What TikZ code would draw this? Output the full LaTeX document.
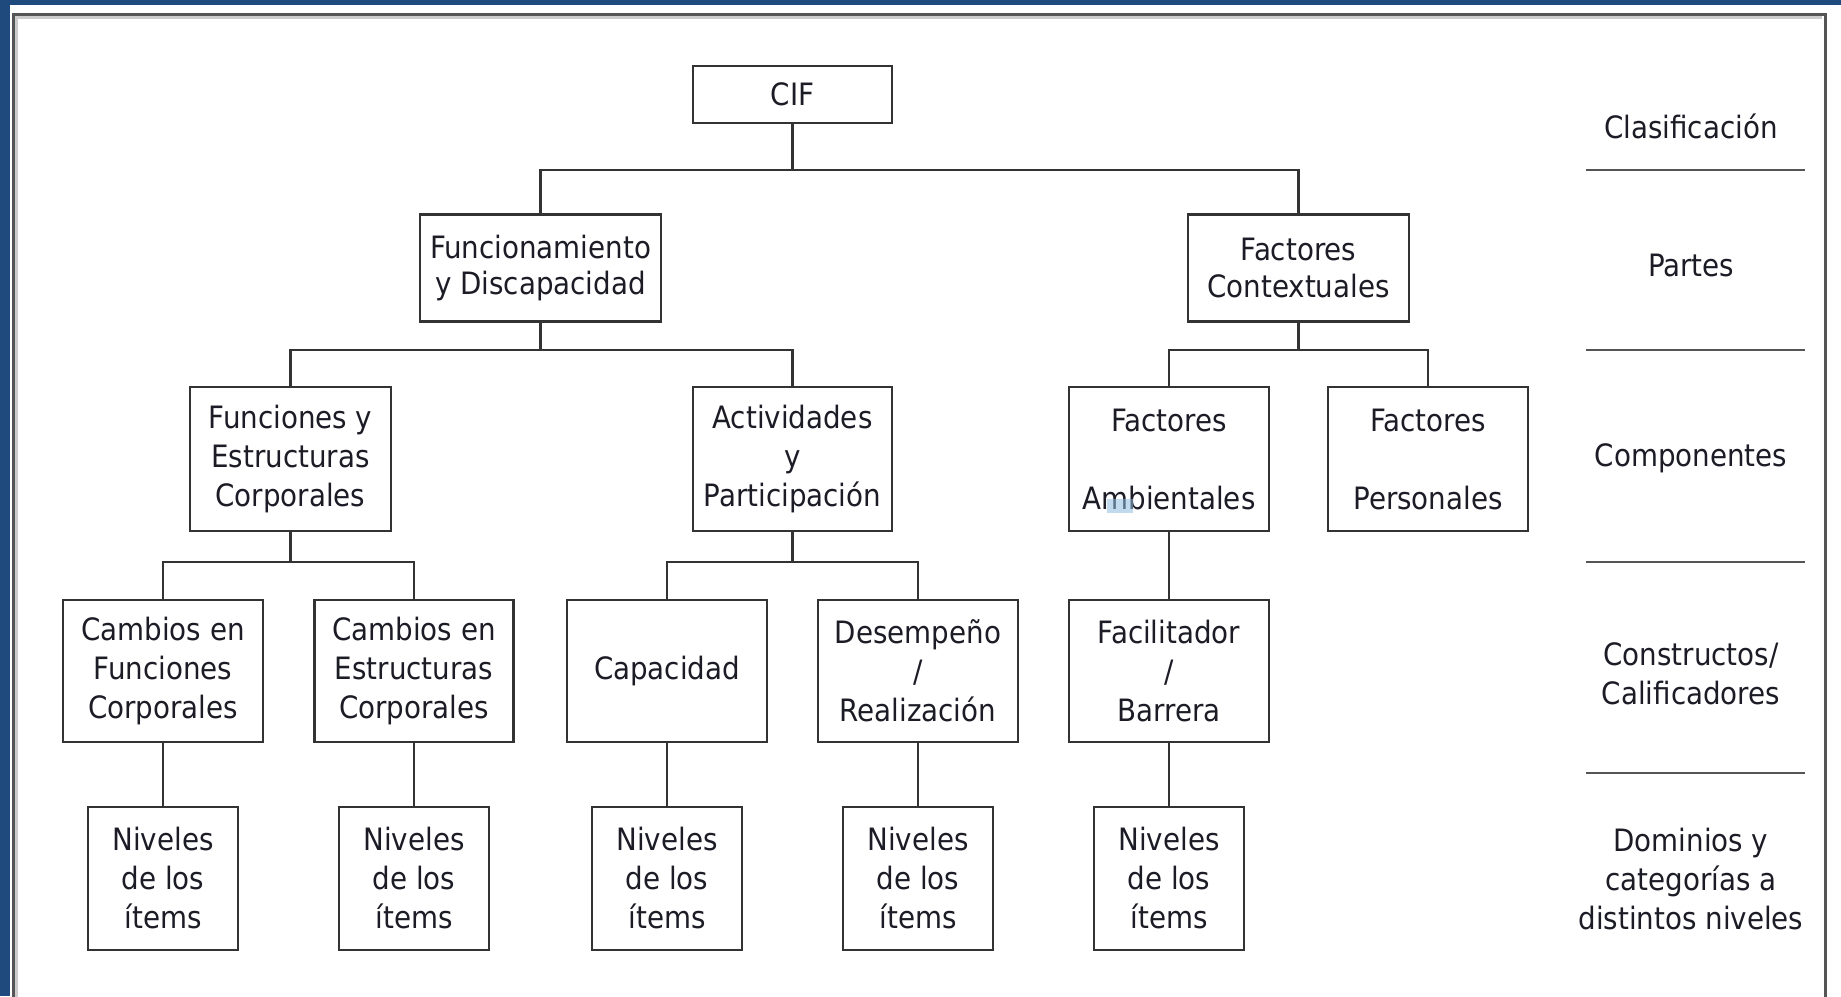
\documentclass[tikz,border=0pt]{standalone}
\usepackage{fontspec}
\newfontfamily\labelfont{DejaVu Sans Condensed}
\definecolor{bandblue}{HTML}{1F4A7D}
\definecolor{linegray}{HTML}{333333}
\definecolor{framegray}{HTML}{555555}
\definecolor{txt}{HTML}{1C1C26}
\definecolor{selblue}{HTML}{8FBCDF}
\tikzset{
  box/.style={draw=linegray, line width=2.4, fill=white, align=center, inner sep=0pt,
    text=txt, font=\labelfont\fontsize{30.8}{39}\selectfont},
  conn/.style={draw=linegray, line width=2.4},
  sep/.style={draw=framegray, line width=2.6},
  side/.style={align=center, inner sep=0pt, text=txt, font=\labelfont\fontsize{30.8}{39}\selectfont},
}
\begin{document}
\begin{tikzpicture}[x=1pt,y=-1pt]
\useasboundingbox (0,0) rectangle (1841,996);
\fill[white] (0,0) rectangle (1841,996);
% page band and frame
\fill[bandblue] (0,0) rectangle (1841,5);
\fill[bandblue] (0,0) rectangle (10,996);
\draw[black!20, line width=3] (16,1000) -- (16,17) -- (1822,17);
\draw[framegray, line width=3] (13,1000) -- (13,14) -- (1825,14) -- (1825,1000);

% level 1
\node[box, minimum width=199, minimum height=57] (cif) at (792.5,94.5) {CIF};
% level 2
\node[box, minimum width=241, minimum height=107, font=\labelfont\fontsize{30.8}{36.5}\selectfont] (fd) at (540.5,268) {Funcionamiento\\y Discapacidad};
\node[box, minimum width=221, minimum height=107, font=\labelfont\fontsize{30.8}{36.5}\selectfont] (fc) at (1298.5,268) {Factores\\Contextuales};
% level 3
\node[box, minimum width=201, minimum height=144] (fe) at (290.5,459) {Funciones y\\Estructuras\\Corporales};
\node[box, minimum width=199, minimum height=144] (ap) at (792.5,459) {Actividades\\y\\Participación};
\node[box, minimum width=200, minimum height=144] (fa) at (1169,459) {Factores\\[39pt]Ambientales};
\node[box, minimum width=200, minimum height=144] (fp) at (1428,459) {Factores\\[39pt]Personales};
% level 4
\node[box, minimum width=200, minimum height=142] (cf) at (163,671) {Cambios en\\Funciones\\Corporales};
\node[box, minimum width=199, minimum height=142] (ce) at (414,671) {Cambios en\\Estructuras\\Corporales};
\node[box, minimum width=200, minimum height=142] (cap) at (667,671) {Capacidad};
\node[box, minimum width=200, minimum height=142] (dr) at (918,671) {Desempeño\\/\\Realización};
\node[box, minimum width=200, minimum height=142] (fb) at (1169,671) {Facilitador\\/\\Barrera};
% level 5
\node[box, minimum width=150, minimum height=143] (n1) at (163,878.5) {Niveles\\de los\\ítems};
\node[box, minimum width=150, minimum height=143] (n2) at (414,878.5) {Niveles\\de los\\ítems};
\node[box, minimum width=150, minimum height=143] (n3) at (667,878.5) {Niveles\\de los\\ítems};
\node[box, minimum width=150, minimum height=143] (n4) at (918,878.5) {Niveles\\de los\\ítems};
\node[box, minimum width=150, minimum height=143] (n5) at (1169,878.5) {Niveles\\de los\\ítems};

% selection highlight artefact
\fill[selblue, fill opacity=0.55] (1107,499) rectangle (1133,513);

% connectors
\draw[conn] (cif.south) -- (cif.south |- 0,170);
\draw[conn] (fd.north) |- (fc.north |- 0,170) -- (fc.north);
\draw[conn] (fd.south) -- (fd.south |- 0,350);
\draw[conn] (fe.north) |- (ap.north |- 0,350) -- (ap.north);
\draw[conn] (fc.south) -- (fc.south |- 0,350);
\draw[conn] (fa.north) |- (fp.north |- 0,350) -- (fp.north);
\draw[conn] (fe.south) -- (fe.south |- 0,562);
\draw[conn] (cf.north) |- (ce.north |- 0,562) -- (ce.north);
\draw[conn] (ap.south) -- (ap.south |- 0,562);
\draw[conn] (cap.north) |- (dr.north |- 0,562) -- (dr.north);
\draw[conn] (fa.south) -- (fb.north);
\draw[conn] (cf.south) -- (n1.north);
\draw[conn] (ce.south) -- (n2.north);
\draw[conn] (cap.south) -- (n3.north);
\draw[conn] (dr.south) -- (n4.north);
\draw[conn] (fb.south) -- (n5.north);

% right-hand classification column
\node[side] (l1) at (1691,126) {Clasificación};
\node[side] (l2) at (1691,265) {Partes};
\node[side] (l3) at (1691,458) {Componentes};
\node[side] (l4) at (1691,673.5) {Constructos/\\Calificadores};
\node[side] (l5) at (1691,879) {Dominios y\\categorías a\\distintos niveles};
\draw[sep] (1586,170) -- (1805,170);
\draw[sep] (1586,350) -- (1805,350);
\draw[sep] (1586,562) -- (1805,562);
\draw[sep] (1586,773) -- (1805,773);
\end{tikzpicture}
\end{document}
